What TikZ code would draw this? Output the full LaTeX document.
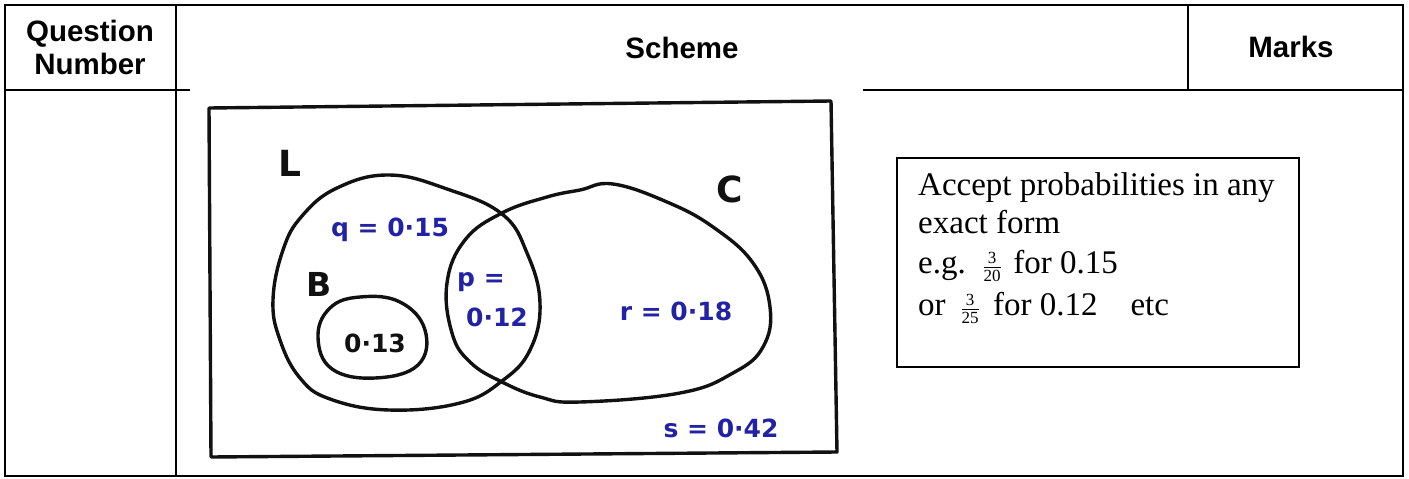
\documentclass[tikz,border=0pt]{standalone}
\usepackage{fontspec}
\setmainfont{Liberation Serif}
\newfontfamily\headfont{Liberation Sans}
\newfontfamily\handfont{DejaVu Sans}
\usetikzlibrary{positioning}
\definecolor{penblue}{HTML}{2222A6}
\definecolor{penblack}{HTML}{111111}
\tikzset{
  tabline/.style={line width=2.8pt, black},
  hand/.style={line width=3.4pt, penblack, line join=round, line cap=round},
  head/.style={font=\headfont\bfseries\fontsize{29.5}{33}\selectfont,
               anchor=base, inner sep=0pt},
  vlab/.style={font=\handfont\bfseries\fontsize{25}{28}\selectfont, penblue, inner sep=0pt},
  setlab/.style={font=\handfont\bfseries\fontsize{36}{40}\selectfont, penblack, inner sep=0pt},
  note/.style={font=\fontsize{33}{40}\selectfont, anchor=base west, inner sep=0pt},
}
\newcommand{\smallfr}[2]{$\frac{\mbox{\fontsize{17}{17}\selectfont #1}}{\mbox{\fontsize{17}{17}\selectfont #2}}$}

\begin{document}
\begin{tikzpicture}[x=1pt, y=-1pt]
  \useasboundingbox (0,0) rectangle (1409,479);
  % table
  \draw[tabline] (5,5) rectangle (1403,476);
  \draw[tabline] (176,5) -- (176,476);
  \draw[tabline] (1188,5) -- (1188,90);
  \draw[tabline] (5,90) -- (190,90);
  \draw[tabline] (863,90) -- (1403,90);
  \node[head] (qn1) at (90,41) {Question};
  \node[head] (qn2) at (90,74) {Number};
  \node[head] (sch) at (682,58) {Scheme};
  \node[head] (mrk) at (1291,57) {Marks};
  % sketch
  \draw[hand] (209,108) -- (831,101) -- (837,452) -- (211,457) -- cycle;
  \draw[hand] plot[smooth cycle, tension=0.7] coordinates {
    (273,300) (283,250) (302,216) (337,188) (389,175) (447,189) (502,214)
    (527,253) (540,303) (530,350) (502,381) (460,403) (389,410) (330,399)
    (300,378) (280,340)};
  \draw[hand] plot[smooth cycle, tension=0.7] coordinates {
    (502,213) (547,197) (580,190) (613,184) (667,202) (713,227) (753,263)
    (770,307) (763,347) (733,373) (680,393) (580,402) (540,397) (502,382)
    (470,362) (452,333) (447,283) (465,240)};
  \draw[hand] plot[smooth cycle, tension=0.7] coordinates {
    (318,337) (330,308) (360,297) (400,302) (425,330) (418,365) (375,378)
    (332,369)};
  \node[setlab] (setL) at (290,163) {L};
  \node[setlab] (setC) at (730,189) {C};
  \node[setlab, font=\handfont\bfseries\fontsize{33}{36}\selectfont] (setB) at (319,284) {B};
  \node[vlab] (valq) at (390,230) {q = 0·15};
  \node[vlab] (valp) at (481,282) {p =};
  \node[vlab] (valp2) at (497,317) {0·12};
  \node[vlab] (valr) at (676,311) {r = 0·18};
  \node[vlab] (vals) at (721,428) {s = 0·42};
  \node[vlab, penblack] (valb) at (375,343) {0·13};
  % note
  \draw[line width=1.5pt] (897,158) rectangle (1299,367);
  \node[note] (acc1) at (918,195) {Accept probabilities in any};
  \node[note] (acc2) at (918,233) {exact form};
  \node[note] (acc3) at (918,273) {e.g.\hspace{0.5em}\smallfr{3}{20}\hspace{0.35em}for 0.15};
  \node[note] (acc4) at (918,315) {or\hspace{0.45em}\smallfr{3}{25}\hspace{0.4em}for 0.12\quad etc};
\end{tikzpicture}
\end{document}
